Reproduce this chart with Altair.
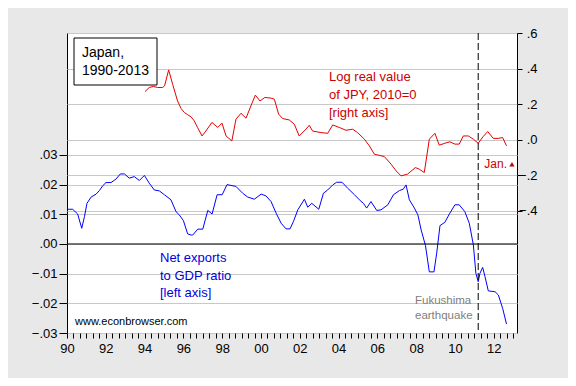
import altair as alt
import pandas as pd

FONT = "Liberation Sans"

# Log real value of JPY (2010=0), right axis
red_years = [1994.02, 1994.24, 1994.45, 1994.67, 1994.93, 1995.03, 1995.24, 1995.45, 1995.70, 1995.88,
             1996.05, 1996.22, 1996.40, 1996.56, 1996.73, 1996.96, 1997.16, 1997.47, 1997.77, 1997.99,
             1998.20, 1998.50, 1998.71, 1998.97, 1999.23, 1999.48, 1999.71, 1999.95, 2000.20, 2000.52,
             2000.69, 2000.91, 2001.12, 2001.46, 2001.72, 2001.97, 2002.32, 2002.49, 2002.66, 2003.09,
             2003.44, 2003.70, 2004.04, 2004.38, 2004.73, 2004.98, 2005.33, 2005.59, 2005.85, 2006.02,
             2006.36, 2006.71, 2006.97, 2007.22, 2007.56, 2007.96, 2008.16, 2008.42, 2008.68, 2008.97,
             2009.19, 2009.48, 2009.74, 2010.00, 2010.22, 2010.43, 2010.69, 2010.95, 2011.20, 2011.46,
             2011.69, 2011.97, 2012.23, 2012.46, 2012.66]
red_vals = [0.270, 0.293, 0.299, 0.293, 0.293, 0.302, 0.392, 0.310, 0.217, 0.175,
            0.152, 0.140, 0.127, 0.105, 0.068, 0.020, 0.048, 0.096, 0.068, 0.092,
            0.020, -0.008, 0.114, 0.148, 0.120, 0.189, 0.250, 0.217, 0.237, 0.233,
            0.227, 0.143, 0.118, 0.110, 0.086, 0.020, 0.058, 0.080, 0.048, 0.039,
            0.035, 0.082, 0.068, 0.052, 0.058, 0.039, 0.002, -0.036, -0.083, -0.087,
            -0.096, -0.139, -0.177, -0.205, -0.195, -0.158, -0.167, -0.186, 0.002, 0.035,
            -0.032, -0.021, -0.013, -0.026, -0.026, 0.020, 0.020, 0.002, -0.021, 0.017,
            0.045, 0.007, 0.006, 0.011, -0.036]

# Net exports to GDP ratio, left axis
blue_years = [1990.03, 1990.29, 1990.55, 1990.76, 1990.90, 1991.03, 1991.24, 1991.50, 1991.67, 1991.84,
              1992.01, 1992.27, 1992.53, 1992.75, 1992.96, 1993.21, 1993.47, 1993.73, 1993.99, 1994.24,
              1994.50, 1994.76, 1995.02, 1995.36, 1995.62, 1995.79, 1996.00, 1996.22, 1996.40, 1996.48,
              1996.74, 1997.00, 1997.26, 1997.48, 1997.74, 1998.00, 1998.25, 1998.71, 1999.06, 1999.32,
              1999.66, 2000.01, 2000.26, 2000.52, 2000.78, 2001.04, 2001.29, 2001.50, 2001.67, 2001.90,
              2002.24, 2002.41, 2002.62, 2002.98, 2003.22, 2003.44, 2003.70, 2003.90, 2004.18, 2004.47,
              2004.82, 2005.07, 2005.28, 2005.45, 2005.67, 2005.97, 2006.19, 2006.54, 2006.83, 2007.14,
              2007.34, 2007.48, 2007.65, 2007.91, 2008.09, 2008.26, 2008.48, 2008.68, 2008.92, 2009.06,
              2009.23, 2009.48, 2009.74, 2010.00, 2010.22, 2010.51, 2010.74, 2010.95, 2011.08, 2011.20,
              2011.29, 2011.43, 2011.55, 2011.72, 2012.07, 2012.24, 2012.46, 2012.66]
blue_vals = [0.0117, 0.0117, 0.0101, 0.0053, 0.0092, 0.0137, 0.0158, 0.0168, 0.0180, 0.0196,
             0.0207, 0.0207, 0.0219, 0.0236, 0.0236, 0.0222, 0.0227, 0.0214, 0.0231, 0.0205,
             0.0182, 0.0179, 0.0166, 0.0149, 0.0109, 0.0098, 0.0079, 0.0034, 0.0030, 0.0030,
             0.0050, 0.0050, 0.0113, 0.0101, 0.0166, 0.0166, 0.0200, 0.0194, 0.0171, 0.0158,
             0.0151, 0.0168, 0.0162, 0.0143, 0.0104, 0.0070, 0.0051, 0.0051, 0.0075, 0.0115,
             0.0151, 0.0124, 0.0137, 0.0117, 0.0171, 0.0182, 0.0199, 0.0208, 0.0208, 0.0188,
             0.0166, 0.0149, 0.0137, 0.0121, 0.0143, 0.0113, 0.0115, 0.0132, 0.0166, 0.0180,
             0.0185, 0.0199, 0.0149, 0.0121, 0.0098, 0.0047, -0.0005, -0.0094, -0.0094, -0.0031,
             0.0062, 0.0073, 0.0104, 0.0132, 0.0132, 0.0109, 0.0070, -0.0003, -0.0099, -0.0127,
             -0.0099, -0.0079, -0.0110, -0.0158, -0.0161, -0.0172, -0.0217, -0.0270]

jan_year = [2012.94]
jan_val = [-0.139]
quake_year = [2011.2]

left_ticks = [-0.03, -0.02, -0.01, 0.0, 0.01, 0.02, 0.03]
right_ticks = [-0.4, -0.2, 0.0, 0.2, 0.4, 0.6]
x_ticks = [round(1990 + i / 3, 4) for i in range(0, 70)]

LEFT_DOM = [-0.03, 0.0711]
RIGHT_DOM = [-1.09, 0.6]
RED_LINE = "#e60000"
RED_TXT = "#cc0000"
BLUE_LINE = "#0000ff"
BLUE_TXT = "#0000dd"

red_df = pd.DataFrame({"year": red_years, "v": red_vals})
blue_df = pd.DataFrame({"year": blue_years, "v": blue_vals})
jan_df = pd.DataFrame({"year": jan_year, "v": jan_val})
quake_df = pd.DataFrame({"year": quake_year})
zero_df = pd.DataFrame({"v": [0.0]})

x_scale = alt.Scale(domain=[1990, 2013.2], nice=False, zero=False)
x_axis = alt.Axis(values=x_ticks, title=None, grid=False, domain=False, tickSize=5, tickColor="black",
                  labelColor="black", labelFont=FONT, labelFontSize=13, labelPadding=4,
                  labelOverlap=False, labelFlush=False,
                  labelExpr="abs(datum.value - round(datum.value)) < 0.01 && round(datum.value) % 2 == 0 ? slice(toString(round(datum.value)), 2) : ''")
x_enc = alt.X("year:Q", scale=x_scale, axis=x_axis)

left_axis = alt.Axis(orient="left", values=left_ticks, title=None, grid=True, gridColor="#c8c8c8",
                     gridWidth=1, domain=False, tickSize=8, tickColor="black", labelColor="black",
                     labelFont=FONT, labelFontSize=13, labelPadding=2,
                     labelExpr="replace(format(datum.value, '.2f'), '0.', '.')")
right_axis = alt.Axis(orient="right", values=right_ticks, title=None, grid=True, gridColor="#c8c8c8",
                      gridWidth=1, domain=False, tickSize=5, tickColor="black", labelColor="black",
                      labelFont=FONT, labelFontSize=13, labelPadding=15, labelAlign="right",
                      labelExpr="replace(format(datum.value, '.1f'), '0.', '.')")

blue = alt.Chart(blue_df).mark_line(color=BLUE_LINE, strokeWidth=1).encode(
    x=x_enc, y=alt.Y("v:Q", scale=alt.Scale(domain=LEFT_DOM, nice=False, zero=False), axis=left_axis))
red = alt.Chart(red_df).mark_line(color=RED_LINE, strokeWidth=1).encode(
    x=x_enc, y=alt.Y("v:Q", scale=alt.Scale(domain=RIGHT_DOM, nice=False, zero=False), axis=right_axis))
zero = alt.Chart(zero_df).mark_rule(color="black", strokeWidth=1).encode(
    y=alt.Y("v:Q", scale=alt.Scale(domain=LEFT_DOM, nice=False, zero=False), axis=None))
quake = alt.Chart(quake_df).mark_rule(color="black", strokeWidth=1, strokeDash=[7, 3]).encode(x=x_enc)
jan = alt.Chart(jan_df).mark_point(shape="triangle-up", filled=True, size=28, color=RED_TXT, opacity=1).encode(
    x=x_enc, y=alt.Y("v:Q", scale=alt.Scale(domain=RIGHT_DOM, nice=False, zero=False), axis=None))

one = alt.Data(values=[{}])


def txt(lines, x, y, color, size, lh, align="left"):
    return alt.Chart(one).mark_text(text=lines, align=align, baseline="alphabetic", font=FONT,
                                    fontSize=size, color=color, lineHeight=lh).encode(
        x=alt.value(x), y=alt.value(y))


box = alt.Chart(one).mark_rect(fill="white", stroke="black", strokeWidth=1).encode(
    x=alt.value(7), x2=alt.value(90), y=alt.value(5), y2=alt.value(52))

texts = [
    txt(["Japan,", "1990-2013"], 15, 23.7, "black", 14, 18.3),
    txt(["Log real value", "of JPY, 2010=0", "[right axis]"], 262, 48, RED_TXT, 13, 17.8),
    txt(["Net exports", "to GDP ratio", "[left axis]"], 93, 229.3, BLUE_TXT, 13, 17.5),
    txt(["www.econbrowser.com"], 8, 292, "black", 11, 14),
    txt(["Fukushima", "earthquake"], 348, 271.3, "#808080", 11.5, 14.7),
    txt(["Jan."], 440, 135.3, RED_TXT, 12, 14, align="right"),
]

chart = alt.layer(blue, red, zero, quake, jan, box, *texts).resolve_scale(y="independent").properties(
    width=450, height=300,
    padding={"left": 59, "top": 25, "right": 51, "bottom": 45},
    autosize=alt.AutoSizeParams(type="none"),
    background="#e8e8e8",
).configure_view(stroke="black", strokeWidth=1, fill="white")

chart.save("out.html", embed_options={"renderer": "svg", "actions": False})
